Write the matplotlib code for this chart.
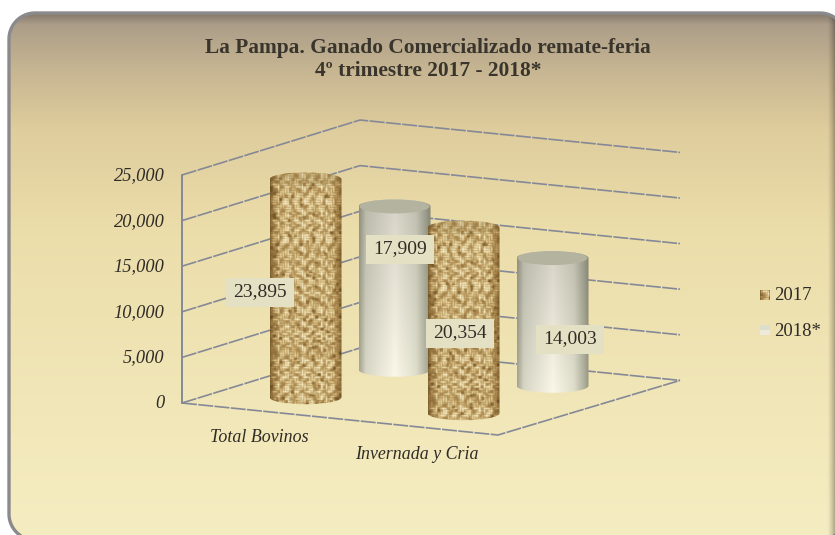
import matplotlib
matplotlib.use("Agg")
import matplotlib.pyplot as plt
import numpy as np
from matplotlib.colors import LinearSegmentedColormap
from matplotlib.patches import Ellipse, PathPatch, Rectangle
from matplotlib.path import Path

categories = ["Total Bovinos", "Invernada y Cria"]
series = ["2017", "2018*"]
values_2017 = [23895, 20354]
values_2018 = [17909, 14003]
y_ticks = [0, 5000, 10000, 15000, 20000, 25000]
title = "La Pampa. Ganado Comercializado remate-feria\n4º trimestre 2017 - 2018*"

W, H = 835, 535
SERIF = "Liberation Serif"

# 3d box corners on the floor, in pixels
FRONT_LEFT = np.array([182.0, 403.0])
FRONT_RIGHT = np.array([498.0, 435.0])
BACK_LEFT = np.array([360.0, 348.0])
WALL_END = 1.0127
PX_PER_UNIT = 228.0 / 25000
BAR_W = 72
BAR_RY = 7

GRID = "#858997"
TEXT = "#2f2c26"
LABEL_BG = "#e3e0c3"
# label box centres, moved by hand in the original chart
LABEL_POS = {(0, 0): (260, 292), (0, 1): (400, 249), (1, 0): (460, 333), (1, 1): (570, 339)}


def project(u, v, value=0.0):
    p = FRONT_LEFT + u * (FRONT_RIGHT - FRONT_LEFT) + v * (BACK_LEFT - FRONT_LEFT)
    return p[0], p[1] - value * PX_PER_UNIT


def frac_hash(n, a, b):
    return (np.sin(n * a + b) * 43758.5453) % 1.0


def burlap(w, h, thread=2.4):
    # woven texture: short pale threads crossing over a brown ground
    scale = 3
    yy, xx = np.mgrid[0:h * scale, 0:w * scale]
    i = (xx / (thread * scale)).astype(int)
    j = (yy / (thread * scale)).astype(int)
    fx = (xx / (thread * scale)) % 1
    fy = (yy / (thread * scale)) % 1
    col = frac_hash(i, 12.9898, 0.7)
    row = frac_hash(j, 78.233, 1.9)
    col_run = 0.55 + 0.45 * np.sin(yy * 0.17 + col * 6.28)
    row_run = 0.55 + 0.45 * np.sin(xx * 0.19 + row * 6.28)
    warp = (0.4 + 0.6 * col) * col_run * np.sin(fx * np.pi)
    weft = (0.4 + 0.6 * row) * row_run * np.sin(fy * np.pi)
    tone = 0.44 + 0.36 * np.maximum(warp, weft) + 0.22 * (warp + weft - 0.35)
    # dark flecks
    block = frac_hash((xx // 9) * 7 + (yy // 9) * 131, 3.137, 0.3)
    tone = np.where(block > 0.94, tone * 0.6, tone)
    # soften like the scaled original
    for _ in range(2):
        tone = (tone + np.roll(tone, 1, 0) + np.roll(tone, -1, 0) + np.roll(tone, 1, 1) + np.roll(tone, -1, 1)) / 5
    # cylinder shading, dark edges
    t = np.linspace(-1, 1, w * scale)
    tone = tone * (0.5 + 0.62 * (1 - np.abs(t) ** 6))[None, :]
    tone = np.clip(tone, 0, 1)
    cmap = LinearSegmentedColormap.from_list(
        "burlap", ["#3e2c10", "#7a5c2c", "#ad8c52", "#dcc68e", "#f4e9c8"])
    return cmap(tone)


def silver(w, h):
    t = np.linspace(0, 1, w)
    cmap = LinearSegmentedColormap.from_list(
        "silver", [(0, "#a3a392"), (0.09, "#d2d1c0"), (0.5, "#f4f0e2"),
                   (0.8, "#d9d8c6"), (0.95, "#a9a997"), (1, "#95957f")])
    side = cmap(t)[None, :, :3]
    fade = np.linspace(0.88, 1.03, h)[:, None, None]
    return np.clip(side * fade, 0, 1)


def rounded_outline(x0, y0, x1, y1, r):
    # polyline, not curves: the box runs past the canvas on two sides
    a = np.linspace(0, np.pi / 2, 24)
    pts = []
    for cx, cy, start in [(x1 - r, y1 - r, 0), (x0 + r, y1 - r, np.pi / 2),
                          (x0 + r, y0 + r, np.pi), (x1 - r, y0 + r, 1.5 * np.pi)]:
        pts += list(zip(cx + r * np.cos(a + start), cy + r * np.sin(a + start)))
    pts.append(pts[0])
    return Path(pts, closed=True)


fig = plt.figure(figsize=(W / 100, H / 100), dpi=100)
ax = fig.add_axes([0, 0, 1, 1])
ax.set_xlim(0, W)
ax.set_ylim(H, 0)
ax.axis("off")

# ---- rounded panel ----------------------------------------------------------
panel_cmap = LinearSegmentedColormap.from_list(
    "panel", [(0, "#85796a"), (0.02, "#ab9d89"), (0.10, "#c5b491"), (0.22, "#dfcd9d"),
              (0.42, "#ecdeab"), (1, "#f5edc2")])
panel = PathPatch(rounded_outline(9, 13, 846, 540, 26), fc="none", ec="#8a8a8c", lw=2.4, zorder=2)
ax.add_patch(panel)
bg = ax.imshow(np.linspace(0, 1, 256)[:, None], cmap=panel_cmap, extent=(9, 846, 540, 13),
               aspect="auto", zorder=1)
bg.set_clip_path(panel)
# soft dark edge on the right
edge = np.zeros((1, 32, 4))
edge[..., 3] = np.linspace(0, 0.42, 32) ** 1.4
edge_im = ax.imshow(edge, extent=(827, 835, 540, 13), aspect="auto", zorder=1.5)
edge_im.set_clip_path(panel)
ax.set_xlim(0, W)
ax.set_ylim(H, 0)

# ---- walls and floor --------------------------------------------------------
dash = (0, (9, 0.8))
for tick in y_ticks:
    pts = [project(0, 0, tick), project(0, 1, tick), project(WALL_END, 1, tick)]
    ax.plot(*zip(*pts), color=GRID, lw=1.2, ls=dash, zorder=3)
floor = [project(0, 0), project(1, 0), project(WALL_END, 1)]
ax.plot(*zip(*floor), color=GRID, lw=1.2, ls=dash, zorder=3)
ax.plot(*zip(project(0, 0), project(0, 0, y_ticks[-1])), color=GRID, lw=1.4, zorder=3)

for tick in y_ticks:
    x, y = project(0, 0, tick)
    ax.text(x - 17.5, y + 0.5, f"{tick:,}", ha="right", va="center", style="italic",
            family=SERIF, fontsize=13.2, color=TEXT, zorder=6)

ax.text(259.5, 437.5, categories[0], ha="center", va="center", style="italic",
        family=SERIF, fontsize=12.9, color=TEXT, zorder=6)
ax.text(416.5, 454.5, categories[1], ha="center", va="center", style="italic",
        family=SERIF, fontsize=12.9, color=TEXT, zorder=6)


# ---- cylinders, back row first ----------------------------------------------
def cylinder(cx, base_y, top_y, kind, zorder):
    left, right = cx - BAR_W / 2, cx + BAR_W / 2
    k = 0.5523
    verts = [(left, top_y), (left, base_y),
             (left, base_y + k * BAR_RY), (cx - k * BAR_W / 2, base_y + BAR_RY), (cx, base_y + BAR_RY),
             (cx + k * BAR_W / 2, base_y + BAR_RY), (right, base_y + k * BAR_RY), (right, base_y),
             (right, top_y),
             (right, top_y - k * BAR_RY), (cx + k * BAR_W / 2, top_y - BAR_RY), (cx, top_y - BAR_RY),
             (cx - k * BAR_W / 2, top_y - BAR_RY), (left, top_y - k * BAR_RY), (left, top_y),
             (left, top_y)]
    codes = [Path.MOVETO, Path.LINETO, Path.CURVE4, Path.CURVE4, Path.CURVE4, Path.CURVE4, Path.CURVE4,
             Path.CURVE4, Path.LINETO, Path.CURVE4, Path.CURVE4, Path.CURVE4, Path.CURVE4, Path.CURVE4,
             Path.CURVE4, Path.CLOSEPOLY]
    body = PathPatch(Path(verts, codes), fc="none", ec="none", zorder=zorder)
    ax.add_patch(body)
    h = int(base_y - top_y + 2 * BAR_RY + 2)
    img = burlap(BAR_W, h) if kind == 0 else silver(BAR_W, h)
    im = ax.imshow(img, extent=(left, right, base_y + BAR_RY + 1, top_y - BAR_RY - 1),
                   aspect="auto", interpolation="bilinear", zorder=zorder)
    im.set_clip_path(body)
    if kind == 1:
        ax.add_patch(Ellipse((cx, top_y), BAR_W - 2, 2 * BAR_RY, fc="#b3b3a0", ec="none", zorder=zorder + 0.1))
    else:
        ax.add_patch(Ellipse((cx, top_y), BAR_W - 2, 2 * BAR_RY, fc="#8c7440", ec="none", alpha=0.22,
                             zorder=zorder + 0.1))


all_values = [values_2017, values_2018]
order = [(0, 1), (1, 1), (0, 0), (1, 0)]
for z, (i, j) in enumerate(order):
    u, v = (i + 0.5) / 2, (j + 0.5) / 2
    value = all_values[j][i]
    cx, base_y = project(u, v)
    _, top_y = project(u, v, value)
    cylinder(cx, base_y, top_y, j, 4 + z * 0.2)

for (i, j), (lx, ly) in LABEL_POS.items():
    ax.add_patch(Rectangle((lx - 34, ly - 14.5), 68, 29, fc=LABEL_BG, ec="none", zorder=7))
    ax.text(lx, ly, f"{all_values[j][i]:,}", ha="center", va="center", family=SERIF,
            fontsize=14, color=TEXT, zorder=8)

# ---- title and legend -------------------------------------------------------
ax.text(428, 59.5, title, ha="center", va="center", family=SERIF, fontweight="bold",
        fontsize=15.4, color="#3a352c", linespacing=1.2, zorder=6)

legend_y = [295, 330]
for j, (name, ly) in enumerate(zip(series, legend_y)):
    img = burlap(10, 10, thread=2.5) if j == 0 else np.array([[[0.87, 0.87, 0.80]], [[0.93, 0.92, 0.86]]])
    ax.imshow(img, extent=(760, 770, ly + 5, ly - 5), aspect="auto", zorder=6)
    ax.text(774, ly + j, name, ha="left", va="center", family=SERIF, fontsize=13.5, color=TEXT, zorder=6)
ax.set_xlim(0, W)
ax.set_ylim(H, 0)

fig.savefig("out.png", dpi=100, facecolor="white")
